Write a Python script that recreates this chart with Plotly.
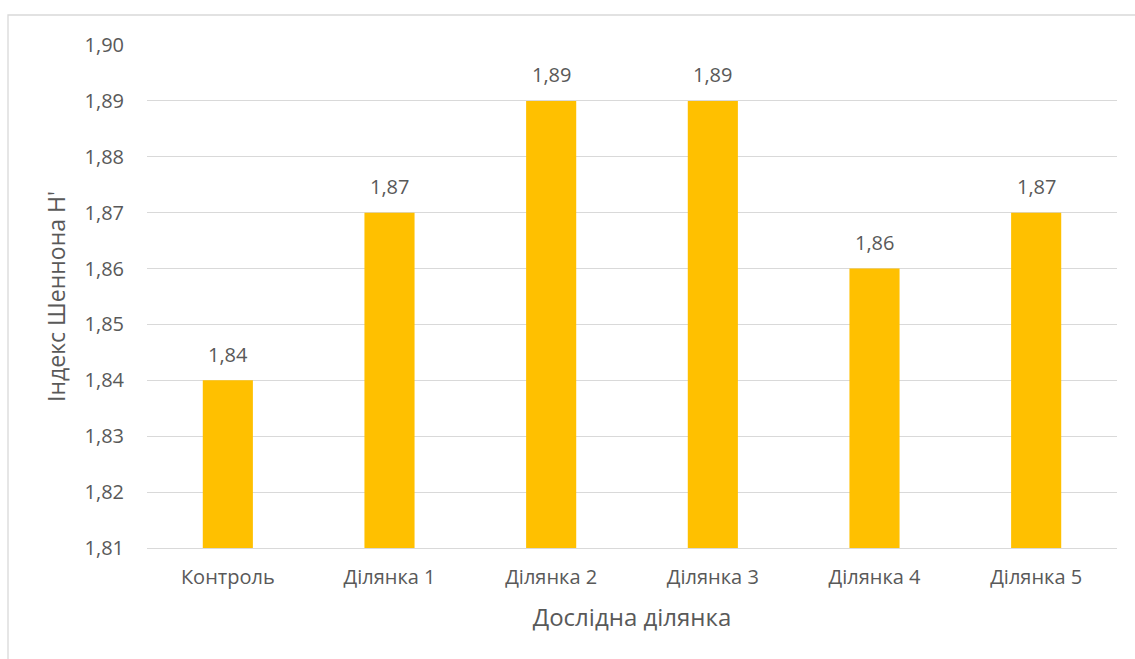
import plotly.graph_objects as go

# Shannon diversity index by experimental plot
categories = ["Контроль", "Ділянка 1", "Ділянка 2", "Ділянка 3", "Ділянка 4", "Ділянка 5"]
shannon_h = [1.84, 1.87, 1.89, 1.89, 1.86, 1.87]
y_ticks = [1.81, 1.82, 1.83, 1.84, 1.85, 1.86, 1.87, 1.88, 1.89, 1.90]

FONT = "Open Sans"
TEXT = "#595959"
GRID = "#D9D9D9"
BAR = "#FFC000"

W, H = 1135, 659
L, R, T, B = 147, 18, 45, 111

fig = go.Figure()
fig.add_trace(go.Bar(
    x=categories,
    y=shannon_h,
    marker=dict(color=BAR, line=dict(width=0)),
    width=0.31,
    hoverinfo="x+y",
))

# value labels above each bar
for c, v in zip(categories, shannon_h):
    fig.add_annotation(
        x=c, y=v, text=f"{v:.2f}".replace(".", ","),
        showarrow=False, yshift=26, yanchor="middle",
        font=dict(family=FONT, size=20, color=TEXT),
    )

# outer chart frame
pw, ph = W - L - R, H - T - B
fig.add_shape(
    type="rect", xref="paper", yref="paper",
    x0=(8 - L) / pw, x1=(W + 20 - L) / pw,
    y0=-(H + 20 - T - ph) / ph, y1=(H - B - 15) / ph,
    line=dict(color=GRID, width=1.3), fillcolor="rgba(0,0,0,0)", layer="below",
)

fig.update_layout(
    width=W, height=H,
    margin=dict(l=L, r=R, t=T, b=B, pad=0),
    paper_bgcolor="white", plot_bgcolor="white",
    separators=", ",
    showlegend=False,
    bargap=0.69,
    font=dict(family=FONT, size=20, color=TEXT),
    xaxis=dict(
        showgrid=False, showline=True, linecolor=GRID, linewidth=1.3,
        ticks="outside", ticklen=11, tickcolor="rgba(0,0,0,0)",
        tickfont=dict(family=FONT, size=20, color=TEXT),
        title=dict(text="Дослідна ділянка", font=dict(family=FONT, size=24, color=TEXT), standoff=20),
    ),
    yaxis=dict(
        range=[1.81, 1.90], tickvals=y_ticks, tickformat=".2f",
        showgrid=True, gridcolor=GRID, gridwidth=1.3,
        zeroline=False, showline=False,
        ticks="outside", ticklen=18, tickcolor="rgba(0,0,0,0)",
        tickfont=dict(family=FONT, size=20, color=TEXT),
        title=dict(text="Індекс Шеннона Н'", font=dict(family=FONT, size=23, color=TEXT), standoff=12),
    ),
)

fig.write_html("out.html")
